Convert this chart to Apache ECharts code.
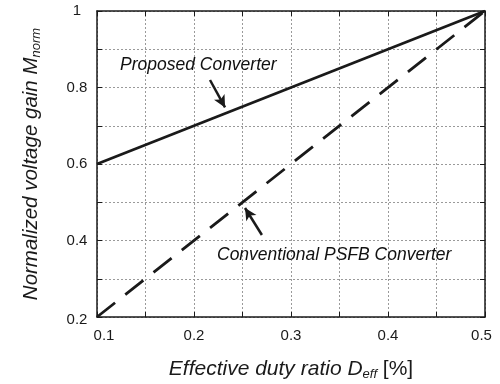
<!DOCTYPE html>
<html>
<head>
<meta charset="utf-8">
<script src="https://cdn.jsdelivr.net/npm/echarts@6/dist/echarts.min.js"></script>
<style>html,body{margin:0;padding:0;background:#fff}#c{width:500px;height:384px}</style>
</head>
<body>
<div id="c"></div>
<script>
// Data
const dutyRatio = [0.1, 0.5];
const proposedGain = [0.6, 1.0];
const conventionalGain = [0.2, 1.0];
const seriesNames = ['Proposed Converter', 'Conventional PSFB Converter'];
// annotation anchors in data space [x, y]
const proposedLabelAt = [0.1237, 0.859];
const conventionalLabelAt = [0.2237, 0.362];
const proposedArrow = [[0.2165, 0.8196], [0.232, 0.748]];
const conventionalArrow = [[0.270, 0.4144], [0.2526, 0.485]];

const FONT = 'Liberation Sans, Arial, sans-serif';
const ink = '#1a1a1a';

const chart = echarts.init(document.getElementById('c'), null, {renderer: 'canvas'});

function xFmt(v) {
  const r = Math.round(v * 100);
  if (r % 10 !== 0) return '';
  if (r === 10) return '{first|' + v.toFixed(1) + '}';
  if (r === 50) return '{last|' + v.toFixed(1) + '}';
  return v.toFixed(1);
}
function yFmt(v) {
  const r = Math.round(v * 10);
  if (r % 2 !== 0) return '';
  if (r === 2) return '{low|' + v.toFixed(1) + '}';
  return r === 10 ? '1' : v.toFixed(1);
}

const baseAxis = {
  axisLine: {show: true, onZero: false, lineStyle: {color: ink, width: 1.5}},
  axisTick: {show: true, inside: true, length: 5, lineStyle: {color: ink, width: 1}},
  splitLine: {show: false}
};

chart.setOption({
  animation: false,
  grid: {left: 97, right: 15, top: 11, bottom: 67, containLabel: false, outerBoundsMode: 'none'},
  xAxis: [
    Object.assign({}, baseAxis, {
      type: 'value', min: 0.1, max: 0.5, interval: 0.05, position: 'bottom',
      axisLabel: {
        formatter: xFmt, color: ink, fontFamily: FONT, fontSize: 15, margin: 11,
        rich: {
          first: {fontFamily: FONT, fontSize: 15, color: ink, padding: [0, 0, 0, 14]},
          last: {fontFamily: FONT, fontSize: 15, color: ink, padding: [0, 7, 0, 0]}
        }
      },
      splitLine: {show: true, lineStyle: {color: '#9a9a9a', type: [2, 2], width: 1}},
      name: '{i|Effective duty ratio }{d|D}{s|eff}{n| [%]}',
      nameLocation: 'middle', nameGap: 40,
      nameTextStyle: {
        rich: {
          i: {fontFamily: FONT, fontSize: 21, fontStyle: 'italic', color: ink, lineHeight: 24},
          d: {fontFamily: FONT, fontSize: 21, fontStyle: 'italic', color: ink, lineHeight: 24},
          s: {fontFamily: FONT, fontSize: 13, fontStyle: 'italic', color: ink, verticalAlign: 'bottom', lineHeight: 24, padding: [7, 0, 0, 0]},
          n: {fontFamily: FONT, fontSize: 21, color: ink, lineHeight: 24}
        }
      }
    }),
    Object.assign({}, baseAxis, {
      type: 'value', min: 0.1, max: 0.5, interval: 0.05, position: 'top',
      axisLabel: {show: false}
    })
  ],
  yAxis: [
    Object.assign({}, baseAxis, {
      type: 'value', min: 0.2, max: 1, interval: 0.1, position: 'left',
      axisLabel: {
        formatter: yFmt, color: ink, fontFamily: FONT, fontSize: 15, margin: 20, align: 'center',
        rich: {low: {fontFamily: FONT, fontSize: 15, color: ink, padding: [6, 0, 0, 0]}}
      },
      splitLine: {show: true, lineStyle: {color: '#9a9a9a', type: [2, 2], width: 1}},
      name: '{i|Normalized voltage gain }{d|M}{s|norm}',
      nameLocation: 'middle', nameGap: 54, nameRotate: 90,
      nameTextStyle: {
        rich: {
          i: {fontFamily: FONT, fontSize: 20.5, fontStyle: 'italic', color: ink, lineHeight: 24},
          d: {fontFamily: FONT, fontSize: 20.5, fontStyle: 'italic', color: ink, lineHeight: 24},
          s: {fontFamily: FONT, fontSize: 13, fontStyle: 'italic', color: ink, verticalAlign: 'bottom', lineHeight: 24, padding: [7, 0, 0, 0]}
        }
      }
    }),
    Object.assign({}, baseAxis, {
      type: 'value', min: 0.2, max: 1, interval: 0.1, position: 'right',
      axisLabel: {show: false}
    })
  ],
  series: [
    {
      name: seriesNames[0], type: 'line', symbol: 'none',
      data: dutyRatio.map((x, i) => [x, proposedGain[i]]),
      lineStyle: {color: ink, width: 2.8},
      markLine: {
        silent: true, symbol: ['none', 'arrow'], symbolSize: [9, 12],
        label: {show: false},
        lineStyle: {color: ink, width: 2.5, type: 'solid'},
        data: [[{coord: proposedArrow[0]}, {coord: proposedArrow[1]}]]
      }
    },
    {
      name: seriesNames[1], type: 'line', symbol: 'none',
      data: dutyRatio.map((x, i) => [x, conventionalGain[i]]),
      lineStyle: {color: ink, width: 2.8, type: [23, 13]},
      markLine: {
        silent: true, symbol: ['none', 'arrow'], symbolSize: [9, 12],
        label: {show: false},
        lineStyle: {color: ink, width: 2.5, type: 'solid'},
        data: [[{coord: conventionalArrow[0]}, {coord: conventionalArrow[1]}]]
      }
    },
    {
      type: 'scatter', symbolSize: 0, silent: true,
      itemStyle: {color: ink, opacity: 1},
      data: [
        {value: proposedLabelAt, label: {formatter: seriesNames[0]}},
        {value: conventionalLabelAt, label: {formatter: seriesNames[1]}}
      ],
      label: {show: true, position: 'right', distance: 0, color: '#111', opacity: 1, textBorderWidth: 0, fontFamily: FONT, fontSize: 17.5, fontStyle: 'italic'}
    }
  ]
});
</script>
</body>
</html>
